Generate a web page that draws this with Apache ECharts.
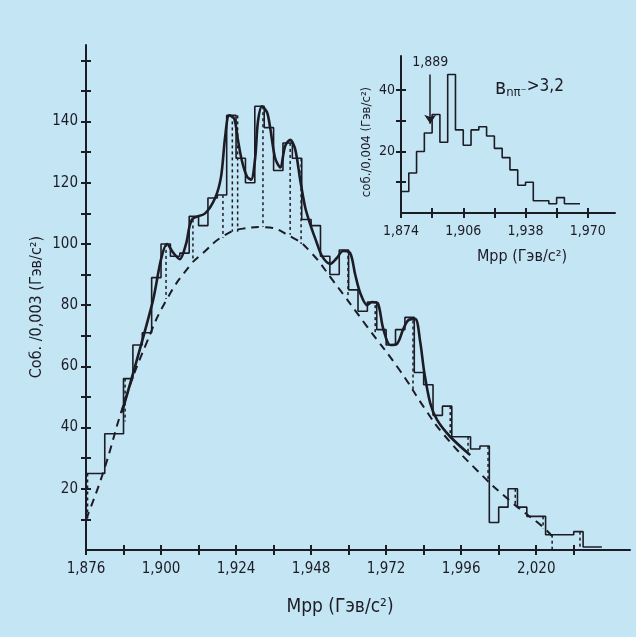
<!DOCTYPE html>
<html>
<head>
<meta charset="utf-8">
<title>Mpp</title>
<script src="https://cdn.jsdelivr.net/npm/echarts@6.0.0/dist/echarts.min.js"></script>
<style>
html, body { margin: 0; padding: 0; background: #c4e5f3; }
#chart { width: 636px; height: 637px; }
</style>
</head>
<body>
<div id="chart"></div>
<script>
// 主图: 直方图, 每格 0,003 ГэВ
var mainStart = 1.876;
var mainBin = 0.003;
var mainCounts = [25, 25, 38, 38, 56, 67, 71, 89, 100, 96, 97, 109, 106, 115, 116, 142, 128, 120, 145, 138,
	124, 133, 128, 108, 106, 96, 90, 98, 85, 78, 81, 72, 67, 72, 76, 58, 54, 44, 47, 37,
	37, 33, 34, 9, 14, 20, 14, 11, 11, 5, 5, 5, 6, 1, 1];

// 拟合曲线 (从图上读的点)
var fitMass = [1.8875, 1.8973, 1.9000, 1.9019, 1.9040, 1.9060, 1.9080, 1.9099, 1.9141,
	1.9173, 1.9192, 1.9205, 1.9218, 1.9234, 1.9246, 1.9259, 1.9275, 1.9288, 1.9301,
	1.9310, 1.9323, 1.9339, 1.9349, 1.9365, 1.9381, 1.9397, 1.9413, 1.9429, 1.9445,
	1.9461, 1.9477, 1.9496, 1.9515, 1.9541, 1.9563, 1.9582, 1.9605, 1.9621, 1.9637,
	1.9659, 1.9675, 1.9694, 1.9710, 1.9733, 1.9755, 1.9774, 1.9790, 1.9813, 1.9829,
	1.9842, 1.9861, 1.9883, 1.9925, 1.9989];
var fitValue = [45, 81, 95, 100, 97, 95, 100, 108, 110,
	115, 122, 135, 142, 141, 134, 127, 122, 121, 128,
	140, 145, 143, 138, 128, 125, 132, 134, 131, 121,
	112, 106.5, 101, 96, 93.5, 95.5, 97.7, 97, 90, 84,
	80, 81, 80.5, 72.6, 67, 67.4, 72, 75, 75.5, 68,
	58, 48, 42.5, 37, 31];

// 本底 (虚线)
var bgMass = [1.876, 1.8814, 1.8885, 1.8955, 1.9019, 1.9093, 1.9134, 1.9198, 1.9262, 1.9326,
	1.9422, 1.9477, 1.955, 1.9659, 1.9765, 1.9845, 1.9902, 2.0011, 2.0117, 2.0222, 2.0251];
var bgValue = [10, 25, 49, 68, 82, 93, 97, 102.5, 105, 105.5,
	102, 97.5, 88, 73, 58.5, 46, 38, 26, 16, 7.5, 4.5];

// 点线竖线: 位置, 上端, 下端
var dropMass = [1.8765, 1.8885, 1.9016, 1.9102, 1.9198, 1.9228, 1.9245, 1.9326, 1.9413, 1.9448,
	1.9598, 1.9685, 1.9806, 1.9925, 1.9982, 2.0046, 2.0133, 2.0222, 2.0251, 2.0340];
var dropTop = [25, 56, 100, 108, 116, 142, 142, 145, 133, 128,
	98, 80, 75, 47, 37, 34, 20, 11, 5, 6];
var dropBottom = [10, 42, 82, 95, 102, 104, 104, 105.5, 103, 100,
	83, 71, 52, 37, 31, 23, 15, 7, 0, 0];

var mainTicksX = [1.876, 1.888, 1.900, 1.912, 1.924, 1.936, 1.948, 1.960, 1.972, 1.984, 1.996, 2.008, 2.020, 2.032];
var mainLabelsX = [1.876, 1.900, 1.924, 1.948, 1.972, 1.996, 2.020];
var mainTicksY = [10, 20, 30, 40, 50, 60, 70, 80, 90, 100, 110, 120, 130, 140, 150, 160];
var mainLabelsY = [20, 40, 60, 80, 100, 120, 140];

// 小图: 每格 0,004
var insetStart = 1.874;
var insetBin = 0.004;
var insetCounts = [7, 13, 20, 26, 32, 23, 45, 27, 22, 27, 28, 25, 21, 18, 14, 9, 10, 4, 4, 3, 5, 3, 3];
var insetTicksX = [1.874, 1.890, 1.906, 1.922, 1.938, 1.954, 1.970];
var insetLabelsX = [1.874, 1.906, 1.938, 1.970];
var insetTicksY = [10, 20, 30, 40];
var insetLabelsY = [20, 40];
var arrowMass = 1.889;

var ink = '#1c1c26';
var font = "'DejaVu Sans Condensed', 'Liberation Sans Narrow', sans-serif";

// 直方图的阶梯点
function stepData(start, width, counts) {
	var d = [];
	for (var i = 0; i < counts.length; i++) {
		d.push([+(start + i * width).toFixed(4), counts[i]]);
	}
	d.push([+(start + counts.length * width).toFixed(4), counts[counts.length - 1]]);
	return d;
}

function pairs(xs, ys) {
	return xs.map(function(x, i) { return [x, ys[i]]; });
}

function commaFmt(v) {
	return v.toFixed(3).replace('.', ',');
}

// 坐标轴 (outer 带刻度标签, inner 只有向内的刻度)
function axis(grid, pos, min, max, ticks, labels, inner, fmt, size, margin) {
	return {
		type: 'value',
		gridIndex: grid,
		position: pos,
		min: min,
		max: max,
		splitLine: { show: false },
		axisLine: { show: !inner, onZero: false, lineStyle: { color: ink, width: 2 } },
		axisTick: { show: true, inside: inner, length: 5, customValues: ticks, lineStyle: { color: ink, width: 2 } },
		axisLabel: {
			show: !inner, customValues: labels, formatter: fmt, color: ink,
			fontFamily: font, fontSize: size, margin: margin
		}
	};
}

var myChart = echarts.init(document.getElementById('chart'));

var option = {
	backgroundColor: '#c4e5f3',
	animation: false,
	grid: [
		{ left: 86, right: 6, top: 45, bottom: 87 },
		{ left: 401, right: 21, top: 56, bottom: 424 }
	],
	xAxis: [
		axis(0, 'bottom', 1.876, 2.050, mainTicksX, mainLabelsX, false, commaFmt, 15, 12),
		axis(0, 'bottom', 1.876, 2.050, mainTicksX, mainLabelsX, true, commaFmt, 15, 12),
		axis(1, 'bottom', 1.874, 1.984, insetTicksX, insetLabelsX, false, commaFmt, 14, 11),
		axis(1, 'bottom', 1.874, 1.984, insetTicksX, insetLabelsX, true, commaFmt, 14, 11)
	],
	yAxis: [
		axis(0, 'left', 0, 165, mainTicksY, mainLabelsY, false, null, 15, 8),
		axis(0, 'left', 0, 165, mainTicksY, mainLabelsY, true, null, 15, 8),
		axis(1, 'left', 0, 51, insetTicksY, insetLabelsY, false, null, 14, 6),
		axis(1, 'left', 0, 51, insetTicksY, insetLabelsY, true, null, 14, 6)
	],
	graphic: [
		{
			type: 'text', x: 340, y: 607,
			style: { text: 'Mpp (Гэв/c²)', fill: ink, font: '19px ' + font, align: 'center', verticalAlign: 'middle' }
		},
		{
			type: 'text', x: 37, y: 307, rotation: Math.PI / 2,
			style: { text: 'Соб. /0,003 (Гэв/c²)', fill: ink, font: '16px ' + font, align: 'center', verticalAlign: 'middle' }
		},
		{
			type: 'text', x: 522, y: 257,
			style: { text: 'Mpp (Гэв/c²)', fill: ink, font: '16px ' + font, align: 'center', verticalAlign: 'middle' }
		},
		{
			type: 'text', x: 367, y: 142, rotation: Math.PI / 2,
			style: { text: 'соб./0,004 (Гэв/c²)', fill: ink, font: '13px ' + font, align: 'center', verticalAlign: 'middle' }
		},
		{
			type: 'text', x: 495, y: 89,
			style: {
				text: '{a|в}{b|nπ⁻}{c|>3,2}', fill: ink, align: 'left', verticalAlign: 'middle',
				rich: {
					a: { fontSize: 21, fontFamily: font, fill: ink },
					b: { fontSize: 13, fontFamily: font, fill: ink, verticalAlign: 'bottom' },
					c: { fontSize: 17, fontFamily: font, fill: ink, verticalAlign: 'top' }
				}
			}
		}
	],
	series: [
		{
			// 主图直方图
			type: 'line', xAxisIndex: 0, yAxisIndex: 0,
			step: 'end', symbol: 'none',
			lineStyle: { color: ink, width: 1.6 },
			data: stepData(mainStart, mainBin, mainCounts)
		},
		{
			// 本底
			type: 'line', xAxisIndex: 0, yAxisIndex: 0,
			smooth: 0.5, symbol: 'none',
			lineStyle: { color: ink, width: 2, type: [8, 6] },
			data: pairs(bgMass, bgValue)
		},
		{
			// 拟合
			type: 'line', xAxisIndex: 0, yAxisIndex: 0,
			smooth: 0.3, symbol: 'none',
			lineStyle: { color: ink, width: 2.6 },
			data: pairs(fitMass, fitValue)
		},
		{
			// 点线竖线
			type: 'custom', xAxisIndex: 0, yAxisIndex: 0,
			data: dropMass.map(function(m, i) { return [m, dropTop[i], dropBottom[i]]; }),
			encode: { x: 0, y: [1, 2] },
			renderItem: function(params, api) {
				var a = api.coord([api.value(0), api.value(1)]);
				var b = api.coord([api.value(0), api.value(2)]);
				return {
					type: 'line',
					shape: { x1: a[0], y1: a[1], x2: b[0], y2: b[1] },
					style: { stroke: ink, lineWidth: 1.5, lineDash: [3, 3] }
				};
			}
		},
		{
			// 小图直方图
			type: 'line', xAxisIndex: 2, yAxisIndex: 2,
			step: 'end', symbol: 'none',
			lineStyle: { color: ink, width: 1.6 },
			data: stepData(insetStart, insetBin, insetCounts),
			markLine: {
				silent: true,
				symbol: ['none', 'arrow'],
				symbolSize: 9,
				lineStyle: { color: ink, width: 1.5, type: 'solid' },
				label: { show: true, position: 'start', formatter: '1,889', color: ink, fontFamily: font, fontSize: 14 },
				data: [[{ coord: [arrowMass, 45] }, { coord: [arrowMass, 29] }]]
			}
		}
	]
};

myChart.setOption(option);
</script>
</body>
</html>
